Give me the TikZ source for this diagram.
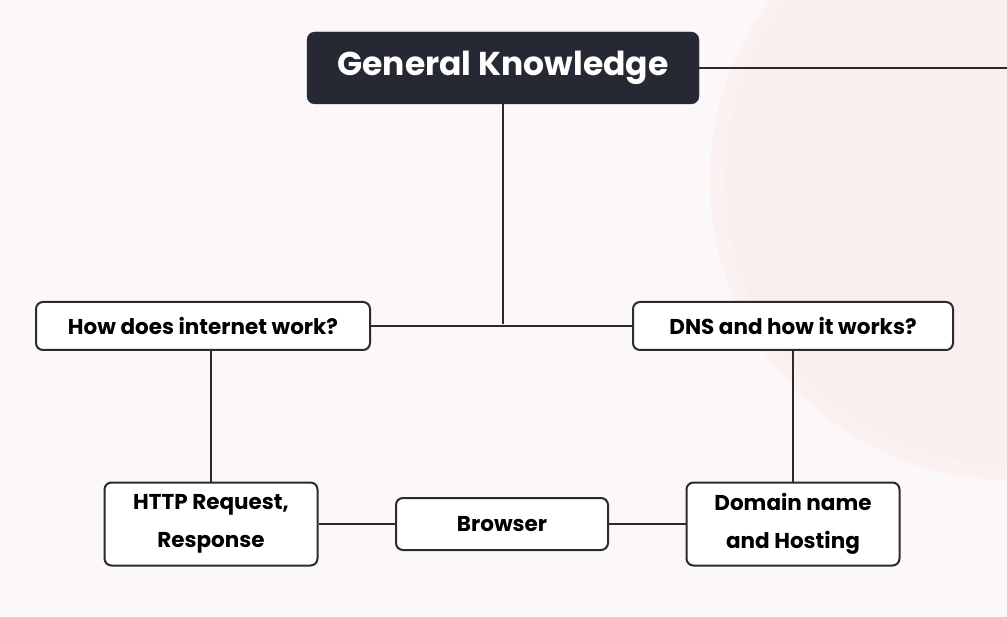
\documentclass[tikz,border=0pt]{standalone}
\usepackage{fontspec}
\setmainfont{Poppins}
\usepackage{xcolor}
\definecolor{bgpink}{HTML}{FCF8F9}
\definecolor{blobpink}{HTML}{FBEEEE}
\definecolor{darkbox}{HTML}{262833}
\definecolor{linecol}{HTML}{2B2B2B}
\tikzset{
  topic/.style={draw=darkbox, fill=darkbox, rounded corners=8pt, text=white,
    font=\fontsize{33}{38}\selectfont\bfseries, minimum width=392pt, minimum height=72pt},
  item/.style={draw=linecol, line width=2pt, fill=white, rounded corners=7pt,
    font=\fontsize{21.5}{38}\selectfont\bfseries, align=center, inner sep=0pt},
  link/.style={draw=linecol, line width=2.7pt}
}
\begin{document}
\begin{tikzpicture}[x=1pt,y=-1pt]
  % background
  \fill[bgpink] (0,0) rectangle (1007,617);
  \useasboundingbox (0,0) rectangle (1007,617);
  \fill[blobpink!70!bgpink] (1010,180) circle (300);
  \fill[blobpink] (1010,180) circle (285);

  % main topic
  \node[topic] (gk) at (503,68) {General Knowledge};
  \coordinate (edge) at (1007,68);

  % first level
  \node[item, minimum width=334pt, minimum height=48pt] (internet) at (203,326) {How does internet work?};
  \node[item, minimum width=320pt, minimum height=48pt] (dns) at (793,326) {DNS and how it works?};
  \coordinate (joint) at (503,324);

  % second level
  \node[item, minimum width=213pt, minimum height=83pt] (http) at (211,524) {HTTP Request,\\Response};
  \node[item, minimum width=212pt, minimum height=52pt] (browser) at (502,524) {Browser};
  \node[item, minimum width=213pt, minimum height=83pt] (domain) at (793,524) {Domain name\\and Hosting};

  % connectors
  \draw[link] (gk.east) -- (edge);
  \draw[link] (gk.south) -- (joint);
  \draw[link] (internet.east) -- (dns.west);
  \draw[link] (internet.south -| http.north) -- (http.north);
  \draw[link] (dns.south) -- (domain.north);
  \draw[link] (http.east) -- (browser.west);
  \draw[link] (browser.east) -- (domain.west);
\end{tikzpicture}
\end{document}
